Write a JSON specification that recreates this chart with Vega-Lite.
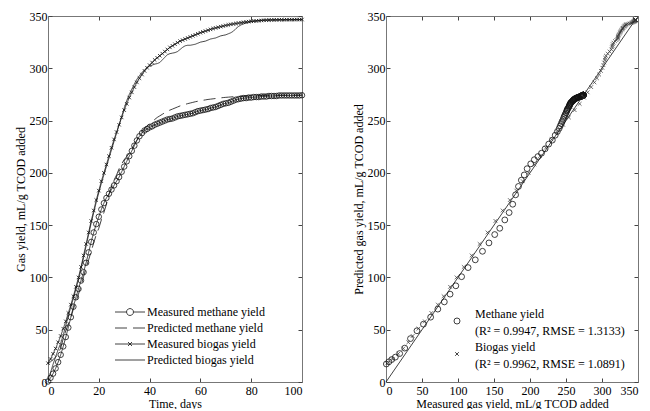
{
"$schema": "https://vega.github.io/schema/vega-lite/v6.json",
"background": "white",
"padding": {"left": 14, "top": 10, "right": 5, "bottom": 0},
"datasets": {
"g": [
{"d":0,"mm":0.5,"pm":17.2,"xb":18,"sb":2},
{"d":1,"mm":4,"pm":19.3,"xb":22,"sb":9},
{"d":2,"mm":8,"pm":21.5,"xb":27,"sb":17},
{"d":3,"mm":13,"pm":23.8,"xb":32,"sb":24},
{"d":4,"mm":19,"pm":27.2,"xb":38,"sb":31},
{"d":5,"mm":26,"pm":32.4,"xb":44,"sb":37},
{"d":6,"mm":34,"pm":41.5,"xb":51,"sb":45},
{"d":7,"mm":43,"pm":49,"xb":58,"sb":54},
{"d":8,"mm":52,"pm":55.3,"xb":66,"sb":63},
{"d":9,"mm":62,"pm":62,"xb":74,"sb":72},
{"d":10,"mm":72,"pm":69.7,"xb":82,"sb":80},
{"d":11,"mm":81,"pm":76.6,"xb":91,"sb":89},
{"d":12,"mm":89,"pm":84,"xb":100,"sb":98},
{"d":13,"mm":97,"pm":92,"xb":110,"sb":108},
{"d":14,"mm":105,"pm":100.7,"xb":121,"sb":119},
{"d":15,"mm":114,"pm":109.4,"xb":132,"sb":130},
{"d":16,"mm":124,"pm":116.8,"xb":143,"sb":141},
{"d":17,"mm":134,"pm":125,"xb":154,"sb":152},
{"d":18,"mm":143,"pm":133,"xb":164,"sb":162},
{"d":19,"mm":151,"pm":141,"xb":174,"sb":172},
{"d":20,"mm":158,"pm":147,"xb":183,"sb":181},
{"d":21,"mm":165,"pm":155,"xb":192,"sb":190},
{"d":22,"mm":171,"pm":162,"xb":200,"sb":198},
{"d":23,"mm":176,"pm":170,"xb":208,"sb":206},
{"d":24,"mm":180,"pm":179,"xb":216,"sb":214},
{"d":25,"mm":184,"pm":187,"xb":224,"sb":222},
{"d":26,"mm":188,"pm":193,"xb":232,"sb":230},
{"d":27,"mm":192,"pm":198,"xb":239,"sb":238},
{"d":28,"mm":196,"pm":204,"xb":246,"sb":246},
{"d":29,"mm":201,"pm":208.6,"xb":253,"sb":254},
{"d":30,"mm":206,"pm":212.6,"xb":260,"sb":262},
{"d":31,"mm":211,"pm":215.6,"xb":266,"sb":269},
{"d":32,"mm":216,"pm":218.8,"xb":272,"sb":275},
{"d":33,"mm":221,"pm":223,"xb":277,"sb":280},
{"d":34,"mm":226,"pm":227.5,"xb":282,"sb":285},
{"d":35,"mm":231,"pm":231.3,"xb":286.5,"sb":289.5},
{"d":36,"mm":235,"pm":236,"xb":290.5,"sb":293},
{"d":37,"mm":238,"pm":239.5,"xb":294,"sb":296},
{"d":38,"mm":240.5,"pm":242.5,"xb":297.5,"sb":298.5},
{"d":39,"mm":242,"pm":245,"xb":300.5,"sb":300.5},
{"d":40,"mm":243.5,"pm":247,"xb":303,"sb":302},
{"d":41,"mm":244.5,"pm":249,"xb":305.5,"sb":303},
{"d":42,"mm":246,"pm":251,"xb":308,"sb":304},
{"d":43,"mm":247,"pm":253,"xb":310,"sb":304.5},
{"d":44,"mm":248,"pm":254.5,"xb":312,"sb":305.5},
{"d":45,"mm":249,"pm":256,"xb":314,"sb":308},
{"d":46,"mm":250,"pm":257.5,"xb":316,"sb":310.5},
{"d":47,"mm":251,"pm":259,"xb":318,"sb":313},
{"d":48,"mm":251.5,"pm":260,"xb":320,"sb":314},
{"d":49,"mm":252,"pm":261,"xb":321.5,"sb":314.5},
{"d":50,"mm":253,"pm":262,"xb":323,"sb":315},
{"d":51,"mm":254,"pm":263,"xb":324.5,"sb":316},
{"d":52,"mm":254.5,"pm":264,"xb":326,"sb":318},
{"d":53,"mm":255,"pm":264.8,"xb":327,"sb":320},
{"d":54,"mm":255.5,"pm":265.5,"xb":328,"sb":321.5},
{"d":55,"mm":256,"pm":266.2,"xb":329,"sb":322},
{"d":56,"mm":256.5,"pm":266.8,"xb":330,"sb":322},
{"d":57,"mm":257,"pm":267.4,"xb":331,"sb":322.5},
{"d":58,"mm":258,"pm":268,"xb":332,"sb":323},
{"d":59,"mm":259,"pm":268.5,"xb":333,"sb":324},
{"d":60,"mm":259.5,"pm":269,"xb":334,"sb":325},
{"d":61,"mm":260,"pm":269.4,"xb":334.8,"sb":325.5},
{"d":62,"mm":260.5,"pm":269.8,"xb":335.6,"sb":326},
{"d":63,"mm":261,"pm":270.2,"xb":336.4,"sb":327},
{"d":64,"mm":262,"pm":270.5,"xb":337.2,"sb":328},
{"d":65,"mm":262.5,"pm":270.8,"xb":338,"sb":328.5},
{"d":66,"mm":263,"pm":271.1,"xb":338.6,"sb":329},
{"d":67,"mm":264,"pm":271.4,"xb":339.2,"sb":330},
{"d":68,"mm":265,"pm":271.7,"xb":339.8,"sb":331},
{"d":69,"mm":266,"pm":272,"xb":340.4,"sb":331.5},
{"d":70,"mm":266.5,"pm":272.2,"xb":341,"sb":332},
{"d":71,"mm":267,"pm":272.4,"xb":341.5,"sb":333},
{"d":72,"mm":268,"pm":272.6,"xb":342,"sb":334},
{"d":73,"mm":269,"pm":272.8,"xb":342.4,"sb":335.5},
{"d":74,"mm":270,"pm":273,"xb":342.8,"sb":338},
{"d":75,"mm":270.5,"pm":273.1,"xb":343.2,"sb":340},
{"d":76,"mm":271,"pm":273.2,"xb":343.6,"sb":341.5},
{"d":77,"mm":271.5,"pm":273.3,"xb":344,"sb":342.5},
{"d":78,"mm":271.5,"pm":273.4,"xb":344.3,"sb":343.3},
{"d":79,"mm":272,"pm":273.5,"xb":344.6,"sb":344},
{"d":80,"mm":272,"pm":273.6,"xb":344.9,"sb":344.5},
{"d":81,"mm":272.5,"pm":273.7,"xb":345.1,"sb":345},
{"d":82,"mm":272.5,"pm":273.8,"xb":345.3,"sb":345.4},
{"d":83,"mm":272.5,"pm":273.9,"xb":345.5,"sb":345.7},
{"d":84,"mm":273,"pm":274,"xb":345.7,"sb":346},
{"d":85,"mm":273,"pm":274,"xb":345.9,"sb":346.1},
{"d":86,"mm":273,"pm":274.1,"xb":346,"sb":346.2},
{"d":87,"mm":273.5,"pm":274.1,"xb":346.1,"sb":346.2},
{"d":88,"mm":273.5,"pm":274.2,"xb":346.2,"sb":346.3},
{"d":89,"mm":273.5,"pm":274.2,"xb":346.3,"sb":346.3},
{"d":90,"mm":273.5,"pm":274.2,"xb":346.3,"sb":346.3},
{"d":91,"mm":274,"pm":274.3,"xb":346.4,"sb":346.4},
{"d":92,"mm":274,"pm":274.3,"xb":346.4,"sb":346.4},
{"d":93,"mm":274,"pm":274.3,"xb":346.4,"sb":346.4},
{"d":94,"mm":274,"pm":274.3,"xb":346.5,"sb":346.4},
{"d":95,"mm":274,"pm":274.4,"xb":346.5,"sb":346.5},
{"d":96,"mm":274,"pm":274.4,"xb":346.5,"sb":346.5},
{"d":97,"mm":274,"pm":274.4,"xb":346.5,"sb":346.5},
{"d":98,"mm":274,"pm":274.4,"xb":346.6,"sb":346.5},
{"d":99,"mm":274,"pm":274.4,"xb":346.6,"sb":346.5},
{"d":100,"mm":274.2,"pm":274.4,"xb":346.6,"sb":346.5}
],
"diag": [{"v":0},{"v":346}]
},
"config": {
  "font": "Liberation Serif",
  "view": {"stroke": null},
  "axis": {"labelFont": "Liberation Serif", "labelFontSize": 12, "labelColor": "black", "titleFont": "Liberation Serif", "titleFontSize": 12, "titleFontWeight": "normal", "titleColor": "black", "grid": false, "domainColor": "#777", "domainWidth": 1, "tickColor": "#444", "tickSize": -4},
  "axisX": {"labelPadding": 7},
  "axisY": {"labelPadding": 5},
  "legend": {"labelFont": "Liberation Serif", "labelFontSize": 12, "labelColor": "black"},
  "style": {"guide-label": {"lineHeight": 17}},
  "concat": {"spacing": 45}
},
"resolve": {"scale": {"shape": "independent"}, "legend": {"shape": "independent"}},
"hconcat": [
{
  "width": 254, "height": 366,
  "data": {"name": "g"},
  "layer": [
    {
      "transform": [{"fold": ["mm","pm","xb","sb"], "as": ["series","value"]}],
      "mark": {"type": "line", "stroke": "#111", "strokeWidth": 0.8},
      "encoding": {
        "x": {"field": "d", "type": "quantitative", "scale": {"domain": [0,100], "nice": false}, "axis": {"values": [0,20,40,60,80,100], "title": "Time, days", "titlePadding": 2}},
        "y": {"field": "value", "type": "quantitative", "scale": {"domain": [0,350], "nice": false}, "axis": {"values": [0,50,100,150,200,250,300,350], "title": "Gas yield, mL/g TCOD added", "titlePadding": 2}},
        "detail": {"field": "series", "type": "nominal"},
        "strokeDash": {"field": "series", "type": "nominal", "scale": {"domain": ["mm","pm","xb","sb"], "range": [[1,0],[12,6],[1,0],[1,0]]}, "legend": null}
      }
    },
    {
      "mark": {"type": "point", "shape": "circle", "size": 30, "filled": false, "stroke": "#111", "strokeWidth": 0.8, "opacity": 1},
      "encoding": {
        "x": {"field": "d", "type": "quantitative", "axis": null},
        "y": {"field": "mm", "type": "quantitative", "axis": null}
      }
    },
    {
      "mark": {"type": "point", "shape": "M-1,-1L1,1M-1,1L1,-1", "size": 12, "filled": false, "stroke": "#111", "strokeWidth": 0.8, "opacity": 1},
      "encoding": {
        "x": {"field": "d", "type": "quantitative", "axis": null},
        "y": {"field": "xb", "type": "quantitative", "axis": null}
      }
    },
    {
      "transform": [{"filter": "datum.d < 0"}],
      "mark": {"type": "point", "filled": false, "stroke": "#111", "strokeWidth": 0.8, "opacity": 1},
      "encoding": {
        "x": {"field": "d", "type": "quantitative", "axis": {"orient": "top", "values": [0,20,40,60,80,100], "labels": false, "title": null}},
        "y": {"field": "mm", "type": "quantitative", "axis": {"orient": "right", "values": [0,50,100,150,200,250,300,350], "labels": false, "title": null}},
        "shape": {"field": "d", "type": "nominal",
          "scale": {"domain": ["Measured methane yield","Predicted methane yield","Measured biogas yield","Predicted biogas yield"],
                    "range": ["M-3,0L-0.7,0M0.7,0L3,0M0.7,0L0.606,0.35L0.35,0.606L0,0.7L-0.35,0.606L-0.606,0.35L-0.7,0L-0.606,-0.35L-0.35,-0.606L0,-0.7L0.35,-0.606L0.606,-0.35Z",
                              "M-3,0L-0.6,0M0.6,0L3,0",
                              "M-3,0L3,0M-0.4,-0.4L0.4,0.4M-0.4,0.4L0.4,-0.4",
                              "M-3,0L3,0"]},
          "legend": {"orient": "none", "legendX": 76, "legendY": 290, "title": null, "padding": 0, "symbolSize": 100, "symbolStrokeWidth": 0.8, "symbolStrokeColor": "#111", "symbolFillColor": "transparent", "labelOffset": 11, "rowPadding": 4, "labelFontSize": 12, "labelLimit": 300}}
      }
    }
  ],
  "resolve": {"axis": {"x": "independent", "y": "independent"}}
},
{
  "width": 252, "height": 366,
  "layer": [
    {
      "data": {"name": "diag"},
      "mark": {"type": "line", "stroke": "#111", "strokeWidth": 0.8},
      "encoding": {
        "x": {"field": "v", "type": "quantitative", "scale": {"domain": [0,350], "nice": false}, "axis": {"values": [0,50,100,150,200,250,300,350], "title": "Measured gas yield, mL/g TCOD added", "titlePadding": 2}},
        "y": {"field": "v", "type": "quantitative", "scale": {"domain": [0,350], "nice": false}, "axis": {"values": [0,50,100,150,200,250,300,350], "title": "Predicted gas yield, mL/g TCOD added", "titlePadding": 2}}
      }
    },
    {
      "data": {"name": "g"},
      "mark": {"type": "point", "shape": "circle", "size": 34, "filled": false, "stroke": "#111", "strokeWidth": 0.8, "opacity": 1},
      "encoding": {
        "x": {"field": "mm", "type": "quantitative", "axis": null},
        "y": {"field": "pm", "type": "quantitative", "axis": null}
      }
    },
    {
      "data": {"name": "g"},
      "mark": {"type": "point", "shape": "M-1,-1L1,1M-1,1L1,-1", "size": 14, "filled": false, "stroke": "#333", "strokeWidth": 0.7, "opacity": 1},
      "encoding": {
        "x": {"field": "sb", "type": "quantitative", "axis": null},
        "y": {"field": "xb", "type": "quantitative", "axis": null}
      }
    },
    {
      "data": {"name": "g"},
      "transform": [{"filter": "datum.d < 0"}],
      "mark": {"type": "point", "filled": false, "stroke": "#111", "strokeWidth": 0.8, "opacity": 1},
      "encoding": {
        "x": {"field": "mm", "type": "quantitative", "axis": {"orient": "top", "values": [0,50,100,150,200,250,300,350], "labels": false, "title": null}},
        "y": {"field": "pm", "type": "quantitative", "axis": {"orient": "right", "values": [0,50,100,150,200,250,300,350], "labels": false, "title": null}},
        "shape": {"field": "d", "type": "nominal",
          "scale": {"domain": ["Methane yield","Biogas yield"], "range": ["circle", "M-0.6,-0.6L0.6,0.6M-0.6,0.6L0.6,-0.6"]},
          "legend": {"orient": "none", "legendX": 65, "legendY": 299, "title": null, "padding": 0, "symbolSize": 36, "symbolStrokeWidth": 0.8, "symbolStrokeColor": "#111", "symbolFillColor": "transparent", "labelOffset": 12, "rowPadding": 4, "labelFontSize": 12, "labelLimit": 300, "labelBaseline": "bottom",
            "labelExpr": "datum.label == 'Methane yield' ? ['Methane yield', '(R² = 0.9947, RMSE = 1.3133)'] : ['Biogas yield', '(R² = 0.9962, RMSE = 1.0891)']"}}
      }
    }
  ],
  "resolve": {"axis": {"x": "independent", "y": "independent"}}
}
]
}
